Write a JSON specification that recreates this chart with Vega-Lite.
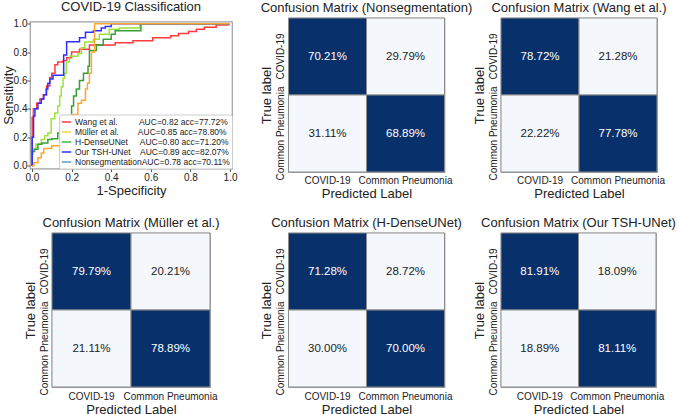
{
  "$schema": "https://vega.github.io/schema/vega-lite/v6.json",
  "padding": {"left": 1, "top": 0, "right": 0, "bottom": 0},
  "background": "white",
  "config": {
    "font": "Liberation Sans",
    "view": {"stroke": "#a0a0a0", "strokeWidth": 1.2},
    "axis": {"labelFont": "Liberation Sans", "titleFont": "Liberation Sans", "labelColor": "#222", "titleColor": "#222", "titleFontWeight": "normal", "labelFontSize": 10, "titleFontSize": 13, "grid": false},
    "title": {"font": "Liberation Sans", "fontSize": 13, "fontWeight": "normal", "color": "#222", "offset": 3}
  },
  "datasets": {
    "roc": [
      {"s": "Wang et al.", "x": 0, "y": 0}, {"s": "Wang et al.", "x": 0.001, "y": 0.34}, {"s": "Wang et al.", "x": 0.007, "y": 0.40}, {"s": "Wang et al.", "x": 0.024, "y": 0.44}, {"s": "Wang et al.", "x": 0.04, "y": 0.47}, {"s": "Wang et al.", "x": 0.057, "y": 0.50}, {"s": "Wang et al.", "x": 0.074, "y": 0.56}, {"s": "Wang et al.", "x": 0.09, "y": 0.62}, {"s": "Wang et al.", "x": 0.10, "y": 0.65}, {"s": "Wang et al.", "x": 0.116, "y": 0.71}, {"s": "Wang et al.", "x": 0.13, "y": 0.73}, {"s": "Wang et al.", "x": 0.157, "y": 0.74}, {"s": "Wang et al.", "x": 0.175, "y": 0.76}, {"s": "Wang et al.", "x": 0.2, "y": 0.80}, {"s": "Wang et al.", "x": 0.24, "y": 0.82}, {"s": "Wang et al.", "x": 0.29, "y": 0.85}, {"s": "Wang et al.", "x": 0.42, "y": 0.865}, {"s": "Wang et al.", "x": 0.51, "y": 0.88}, {"s": "Wang et al.", "x": 0.61, "y": 0.90}, {"s": "Wang et al.", "x": 0.70, "y": 0.915}, {"s": "Wang et al.", "x": 0.74, "y": 0.93}, {"s": "Wang et al.", "x": 0.79, "y": 0.945}, {"s": "Wang et al.", "x": 0.83, "y": 0.96}, {"s": "Wang et al.", "x": 0.87, "y": 0.975}, {"s": "Wang et al.", "x": 0.93, "y": 0.99}, {"s": "Wang et al.", "x": 0.99, "y": 1.0}, {"s": "Wang et al.", "x": 1.0, "y": 1.0},
      {"s": "Müller et al.", "x": 0, "y": 0}, {"s": "Müller et al.", "x": 0.001, "y": 0.08}, {"s": "Müller et al.", "x": 0.005, "y": 0.115}, {"s": "Müller et al.", "x": 0.02, "y": 0.15}, {"s": "Müller et al.", "x": 0.047, "y": 0.185}, {"s": "Müller et al.", "x": 0.064, "y": 0.21}, {"s": "Müller et al.", "x": 0.08, "y": 0.23}, {"s": "Müller et al.", "x": 0.097, "y": 0.33}, {"s": "Müller et al.", "x": 0.115, "y": 0.37}, {"s": "Müller et al.", "x": 0.13, "y": 0.42}, {"s": "Müller et al.", "x": 0.14, "y": 0.49}, {"s": "Müller et al.", "x": 0.148, "y": 0.556}, {"s": "Müller et al.", "x": 0.157, "y": 0.615}, {"s": "Müller et al.", "x": 0.165, "y": 0.65}, {"s": "Müller et al.", "x": 0.173, "y": 0.73}, {"s": "Müller et al.", "x": 0.19, "y": 0.77}, {"s": "Müller et al.", "x": 0.232, "y": 0.79}, {"s": "Müller et al.", "x": 0.25, "y": 0.83}, {"s": "Müller et al.", "x": 0.266, "y": 0.87}, {"s": "Müller et al.", "x": 0.31, "y": 0.89}, {"s": "Müller et al.", "x": 0.34, "y": 0.925}, {"s": "Müller et al.", "x": 0.39, "y": 0.96}, {"s": "Müller et al.", "x": 0.44, "y": 0.97}, {"s": "Müller et al.", "x": 0.545, "y": 1.0}, {"s": "Müller et al.", "x": 1.0, "y": 1.0},
      {"s": "H-DenseUNet", "x": 0, "y": 0}, {"s": "H-DenseUNet", "x": 0.001, "y": 0.1}, {"s": "H-DenseUNet", "x": 0.013, "y": 0.115}, {"s": "H-DenseUNet", "x": 0.03, "y": 0.15}, {"s": "H-DenseUNet", "x": 0.05, "y": 0.16}, {"s": "H-DenseUNet", "x": 0.08, "y": 0.185}, {"s": "H-DenseUNet", "x": 0.1, "y": 0.19}, {"s": "H-DenseUNet", "x": 0.13, "y": 0.23}, {"s": "H-DenseUNet", "x": 0.15, "y": 0.26}, {"s": "H-DenseUNet", "x": 0.165, "y": 0.30}, {"s": "H-DenseUNet", "x": 0.18, "y": 0.35}, {"s": "H-DenseUNet", "x": 0.2, "y": 0.42}, {"s": "H-DenseUNet", "x": 0.21, "y": 0.49}, {"s": "H-DenseUNet", "x": 0.224, "y": 0.54}, {"s": "H-DenseUNet", "x": 0.24, "y": 0.60}, {"s": "H-DenseUNet", "x": 0.26, "y": 0.65}, {"s": "H-DenseUNet", "x": 0.283, "y": 0.70}, {"s": "H-DenseUNet", "x": 0.29, "y": 0.81}, {"s": "H-DenseUNet", "x": 0.325, "y": 0.85}, {"s": "H-DenseUNet", "x": 0.36, "y": 0.89}, {"s": "H-DenseUNet", "x": 0.40, "y": 0.925}, {"s": "H-DenseUNet", "x": 0.42, "y": 0.95}, {"s": "H-DenseUNet", "x": 0.55, "y": 1.0}, {"s": "H-DenseUNet", "x": 1.0, "y": 1.0},
      {"s": "Our TSH-UNet", "x": 0, "y": 0}, {"s": "Our TSH-UNet", "x": 0.001, "y": 0.20}, {"s": "Our TSH-UNet", "x": 0.008, "y": 0.35}, {"s": "Our TSH-UNet", "x": 0.015, "y": 0.40}, {"s": "Our TSH-UNet", "x": 0.03, "y": 0.44}, {"s": "Our TSH-UNet", "x": 0.047, "y": 0.47}, {"s": "Our TSH-UNet", "x": 0.06, "y": 0.50}, {"s": "Our TSH-UNet", "x": 0.072, "y": 0.54}, {"s": "Our TSH-UNet", "x": 0.08, "y": 0.58}, {"s": "Our TSH-UNet", "x": 0.09, "y": 0.61}, {"s": "Our TSH-UNet", "x": 0.106, "y": 0.636}, {"s": "Our TSH-UNet", "x": 0.16, "y": 0.78}, {"s": "Our TSH-UNet", "x": 0.175, "y": 0.873}, {"s": "Our TSH-UNet", "x": 0.24, "y": 0.90}, {"s": "Our TSH-UNet", "x": 0.27, "y": 0.94}, {"s": "Our TSH-UNet", "x": 0.31, "y": 0.95}, {"s": "Our TSH-UNet", "x": 0.35, "y": 0.97}, {"s": "Our TSH-UNet", "x": 0.37, "y": 0.98}, {"s": "Our TSH-UNet", "x": 0.40, "y": 1.0}, {"s": "Our TSH-UNet", "x": 1.0, "y": 1.0},
      {"s": "Nonsegmentation", "x": 0, "y": 0}, {"s": "Nonsegmentation", "x": 0.01, "y": 0.02}, {"s": "Nonsegmentation", "x": 0.03, "y": 0.056}, {"s": "Nonsegmentation", "x": 0.047, "y": 0.09}, {"s": "Nonsegmentation", "x": 0.06, "y": 0.12}, {"s": "Nonsegmentation", "x": 0.10, "y": 0.14}, {"s": "Nonsegmentation", "x": 0.14, "y": 0.17}, {"s": "Nonsegmentation", "x": 0.16, "y": 0.25}, {"s": "Nonsegmentation", "x": 0.18, "y": 0.31}, {"s": "Nonsegmentation", "x": 0.2, "y": 0.36}, {"s": "Nonsegmentation", "x": 0.232, "y": 0.44}, {"s": "Nonsegmentation", "x": 0.25, "y": 0.46}, {"s": "Nonsegmentation", "x": 0.27, "y": 0.54}, {"s": "Nonsegmentation", "x": 0.28, "y": 0.58}, {"s": "Nonsegmentation", "x": 0.29, "y": 0.65}, {"s": "Nonsegmentation", "x": 0.30, "y": 0.80}, {"s": "Nonsegmentation", "x": 0.316, "y": 1.0}, {"s": "Nonsegmentation", "x": 1.0, "y": 1.0}
    ],
    "cm": [
      {"m": "Nonsegmentation", "t": "COVID-19", "p": "COVID-19", "v": 0.7021},
      {"m": "Nonsegmentation", "t": "COVID-19", "p": "Common Pneumonia", "v": 0.2979},
      {"m": "Nonsegmentation", "t": "Common Pneumonia", "p": "COVID-19", "v": 0.3111},
      {"m": "Nonsegmentation", "t": "Common Pneumonia", "p": "Common Pneumonia", "v": 0.6889},
      {"m": "Wang et al.", "t": "COVID-19", "p": "COVID-19", "v": 0.7872},
      {"m": "Wang et al.", "t": "COVID-19", "p": "Common Pneumonia", "v": 0.2128},
      {"m": "Wang et al.", "t": "Common Pneumonia", "p": "COVID-19", "v": 0.2222},
      {"m": "Wang et al.", "t": "Common Pneumonia", "p": "Common Pneumonia", "v": 0.7778},
      {"m": "Müller et al.", "t": "COVID-19", "p": "COVID-19", "v": 0.7979},
      {"m": "Müller et al.", "t": "COVID-19", "p": "Common Pneumonia", "v": 0.2021},
      {"m": "Müller et al.", "t": "Common Pneumonia", "p": "COVID-19", "v": 0.2111},
      {"m": "Müller et al.", "t": "Common Pneumonia", "p": "Common Pneumonia", "v": 0.7889},
      {"m": "H-DenseUNet", "t": "COVID-19", "p": "COVID-19", "v": 0.7128},
      {"m": "H-DenseUNet", "t": "COVID-19", "p": "Common Pneumonia", "v": 0.2872},
      {"m": "H-DenseUNet", "t": "Common Pneumonia", "p": "COVID-19", "v": 0.3000},
      {"m": "H-DenseUNet", "t": "Common Pneumonia", "p": "Common Pneumonia", "v": 0.7000},
      {"m": "Our TSH-UNet", "t": "COVID-19", "p": "COVID-19", "v": 0.8191},
      {"m": "Our TSH-UNet", "t": "COVID-19", "p": "Common Pneumonia", "v": 0.1809},
      {"m": "Our TSH-UNet", "t": "Common Pneumonia", "p": "COVID-19", "v": 0.1889},
      {"m": "Our TSH-UNet", "t": "Common Pneumonia", "p": "Common Pneumonia", "v": 0.8111}
    ]
  },
  "columns": 3,
  "bounds": "flush",
  "center": true,
  "spacing": {"row": 61, "column": 56.5},
  "resolve": {"scale": {"color": "independent", "stroke": "independent"}, "legend": {"color": "independent", "stroke": "independent"}},
  "concat": [
    {
      "title": {"text": "COVID-19 Classification", "offset": 5},
      "width": 202, "height": 147,
      "data": {"name": "roc"},
      "encoding": {
        "x": {"field": "x", "type": "quantitative", "scale": {"domain": [-0.01, 1.01], "nice": false, "zero": false}, "axis": {"title": "1-Specificity", "values": [0, 0.2, 0.4, 0.6, 0.8, 1.0], "format": ".1f", "domain": false, "tickSize": 3, "tickColor": "#555", "labelPadding": 1, "titlePadding": 2, "labelFlush": false}},
        "y": {"field": "y", "type": "quantitative", "scale": {"domain": [-0.02, 1.015], "nice": false, "zero": false}, "axis": {"title": "Sensitivity", "values": [0, 0.2, 0.4, 0.6, 0.8, 1.0], "format": ".1f", "domain": false, "tickSize": 3, "tickColor": "#555", "labelPadding": 0, "titlePadding": -2, "labelFlush": false}}
      },
      "layer": [
        {
          "mark": {"type": "line", "strokeWidth": 1.5, "opacity": 0},
          "encoding": {"color": {"field": "s", "type": "nominal", "scale": {"domain": ["Wang et al.", "Müller et al.", "H-DenseUNet", "Our TSH-UNet", "Nonsegmentation"], "range": ["#ff4040", "#f2d64a", "#3cb83c", "#3030ff", "#5b9bd5"]},
            "legend": {"title": null, "orient": "bottom-right", "offset": 0, "padding": 2, "fillColor": "white", "strokeColor": "#cccccc", "cornerRadius": 2, "labelFontSize": 8.5, "labelColor": "#222", "labelLimit": 0, "rowPadding": 0, "symbolType": "stroke", "symbolSize": 90, "symbolStrokeWidth": 1.5, "symbolOpacity": 1, "labelOffset": 3,
              "labelExpr": "{'Wang et al.': 'Wang et al.\u00a0\u00a0\u00a0\u00a0\u00a0\u00a0\u00a0\u00a0\u00a0AUC=0.82 acc=77.72%', 'Müller et al.': 'Müller et al.\u00a0\u00a0\u00a0\u00a0\u00a0\u00a0\u00a0\u00a0AUC=0.85 acc=78.80%', 'H-DenseUNet': 'H-DenseUNet\u00a0\u00a0\u00a0\u00a0\u00a0AUC=0.80 acc=71.20%', 'Our TSH-UNet': 'Our TSH-UNet\u00a0\u00a0\u00a0\u00a0AUC=0.89 acc=82.07%', 'Nonsegmentation': 'NonsegmentationAUC=0.78 acc=70.11%'}[datum.label]"}}}
        },
        {
          "mark": {"type": "line", "interpolate": "step-after", "strokeWidth": 1.5},
          "encoding": {"stroke": {"field": "s", "type": "nominal", "scale": {"domain": ["Wang et al.", "Müller et al.", "H-DenseUNet", "Our TSH-UNet", "Nonsegmentation"], "range": ["#ff3b3b", "#9be43c", "#35a035", "#2f2fff", "#ffa630"]}, "legend": null}}
        }
      ]
    },
    {
      "title": "Confusion Matrix (Nonsegmentation)",
      "width": 156, "height": 154,
      "data": {"name": "cm"},
      "transform": [{"filter": "datum.m == 'Nonsegmentation'"}],
      "encoding": {
        "x": {"field": "p", "type": "nominal", "sort": ["COVID-19", "Common Pneumonia"], "scale": {"paddingInner": 0, "paddingOuter": 0}, "axis": {"title": "Predicted Label", "labelAngle": 0, "ticks": false, "domain": false, "labelPadding": 3, "titlePadding": 2, "labelLimit": 0}},
        "y": {"field": "t", "type": "nominal", "sort": ["COVID-19", "Common Pneumonia"], "scale": {"paddingInner": 0, "paddingOuter": 0}, "axis": {"title": "True label", "labelAngle": -90, "ticks": false, "domain": false, "labelPadding": 3, "titlePadding": 2, "labelLimit": 0}}
      },
      "layer": [
        {"mark": {"type": "rect", "stroke": "#8c8c8c", "strokeWidth": 1}, "encoding": {"color": {"field": "v", "type": "quantitative", "scale": {"type": "threshold", "domain": [0.5], "range": ["#f4f8fd", "#08306b"]}, "legend": null}}},
        {"mark": {"type": "text", "fontSize": 11.5}, "encoding": {"text": {"field": "v", "type": "quantitative", "format": ".2%"}, "color": {"condition": {"test": "datum.v > 0.5", "value": "white"}, "value": "#222"}}}
      ]
    },
    {
      "title": "Confusion Matrix (Wang et al.)",
      "width": 156, "height": 154,
      "data": {"name": "cm"},
      "transform": [{"filter": "datum.m == 'Wang et al.'"}],
      "encoding": {
        "x": {"field": "p", "type": "nominal", "sort": ["COVID-19", "Common Pneumonia"], "scale": {"paddingInner": 0, "paddingOuter": 0}, "axis": {"title": "Predicted Label", "labelAngle": 0, "ticks": false, "domain": false, "labelPadding": 3, "titlePadding": 2, "labelLimit": 0}},
        "y": {"field": "t", "type": "nominal", "sort": ["COVID-19", "Common Pneumonia"], "scale": {"paddingInner": 0, "paddingOuter": 0}, "axis": {"title": "True label", "labelAngle": -90, "ticks": false, "domain": false, "labelPadding": 3, "titlePadding": 2, "labelLimit": 0}}
      },
      "layer": [
        {"mark": {"type": "rect", "stroke": "#8c8c8c", "strokeWidth": 1}, "encoding": {"color": {"field": "v", "type": "quantitative", "scale": {"type": "threshold", "domain": [0.5], "range": ["#f4f8fd", "#08306b"]}, "legend": null}}},
        {"mark": {"type": "text", "fontSize": 11.5}, "encoding": {"text": {"field": "v", "type": "quantitative", "format": ".2%"}, "color": {"condition": {"test": "datum.v > 0.5", "value": "white"}, "value": "#222"}}}
      ]
    },
    {
      "title": "Confusion Matrix (Müller et al.)",
      "width": 158, "height": 154,
      "data": {"name": "cm"},
      "transform": [{"filter": "datum.m == 'Müller et al.'"}],
      "encoding": {
        "x": {"field": "p", "type": "nominal", "sort": ["COVID-19", "Common Pneumonia"], "scale": {"paddingInner": 0, "paddingOuter": 0}, "axis": {"title": "Predicted Label", "labelAngle": 0, "ticks": false, "domain": false, "labelPadding": 4, "titlePadding": 2, "labelLimit": 0}},
        "y": {"field": "t", "type": "nominal", "sort": ["COVID-19", "Common Pneumonia"], "scale": {"paddingInner": 0, "paddingOuter": 0}, "axis": {"title": "True label", "labelAngle": -90, "ticks": false, "domain": false, "labelPadding": 3, "titlePadding": 2, "labelLimit": 0}}
      },
      "layer": [
        {"mark": {"type": "rect", "stroke": "#8c8c8c", "strokeWidth": 1}, "encoding": {"color": {"field": "v", "type": "quantitative", "scale": {"type": "threshold", "domain": [0.5], "range": ["#f4f8fd", "#08306b"]}, "legend": null}}},
        {"mark": {"type": "text", "fontSize": 11.5}, "encoding": {"text": {"field": "v", "type": "quantitative", "format": ".2%"}, "color": {"condition": {"test": "datum.v > 0.5", "value": "white"}, "value": "#222"}}}
      ]
    },
    {
      "title": "Confusion Matrix (H-DenseUNet)",
      "width": 156, "height": 154,
      "data": {"name": "cm"},
      "transform": [{"filter": "datum.m == 'H-DenseUNet'"}],
      "encoding": {
        "x": {"field": "p", "type": "nominal", "sort": ["COVID-19", "Common Pneumonia"], "scale": {"paddingInner": 0, "paddingOuter": 0}, "axis": {"title": "Predicted Label", "labelAngle": 0, "ticks": false, "domain": false, "labelPadding": 4, "titlePadding": 2, "labelLimit": 0}},
        "y": {"field": "t", "type": "nominal", "sort": ["COVID-19", "Common Pneumonia"], "scale": {"paddingInner": 0, "paddingOuter": 0}, "axis": {"title": "True label", "labelAngle": -90, "ticks": false, "domain": false, "labelPadding": 3, "titlePadding": 2, "labelLimit": 0}}
      },
      "layer": [
        {"mark": {"type": "rect", "stroke": "#8c8c8c", "strokeWidth": 1}, "encoding": {"color": {"field": "v", "type": "quantitative", "scale": {"type": "threshold", "domain": [0.5], "range": ["#f4f8fd", "#08306b"]}, "legend": null}}},
        {"mark": {"type": "text", "fontSize": 11.5}, "encoding": {"text": {"field": "v", "type": "quantitative", "format": ".2%"}, "color": {"condition": {"test": "datum.v > 0.5", "value": "white"}, "value": "#222"}}}
      ]
    },
    {
      "title": "Confusion Matrix (Our TSH-UNet)",
      "width": 155, "height": 154,
      "data": {"name": "cm"},
      "transform": [{"filter": "datum.m == 'Our TSH-UNet'"}],
      "encoding": {
        "x": {"field": "p", "type": "nominal", "sort": ["COVID-19", "Common Pneumonia"], "scale": {"paddingInner": 0, "paddingOuter": 0}, "axis": {"title": "Predicted Label", "labelAngle": 0, "ticks": false, "domain": false, "labelPadding": 4, "titlePadding": 2, "labelLimit": 0}},
        "y": {"field": "t", "type": "nominal", "sort": ["COVID-19", "Common Pneumonia"], "scale": {"paddingInner": 0, "paddingOuter": 0}, "axis": {"title": "True label", "labelAngle": -90, "ticks": false, "domain": false, "labelPadding": 3, "titlePadding": 2, "labelLimit": 0}}
      },
      "layer": [
        {"mark": {"type": "rect", "stroke": "#8c8c8c", "strokeWidth": 1}, "encoding": {"color": {"field": "v", "type": "quantitative", "scale": {"type": "threshold", "domain": [0.5], "range": ["#f4f8fd", "#08306b"]}, "legend": null}}},
        {"mark": {"type": "text", "fontSize": 11.5}, "encoding": {"text": {"field": "v", "type": "quantitative", "format": ".2%"}, "color": {"condition": {"test": "datum.v > 0.5", "value": "white"}, "value": "#222"}}}
      ]
    }
  ]
}
